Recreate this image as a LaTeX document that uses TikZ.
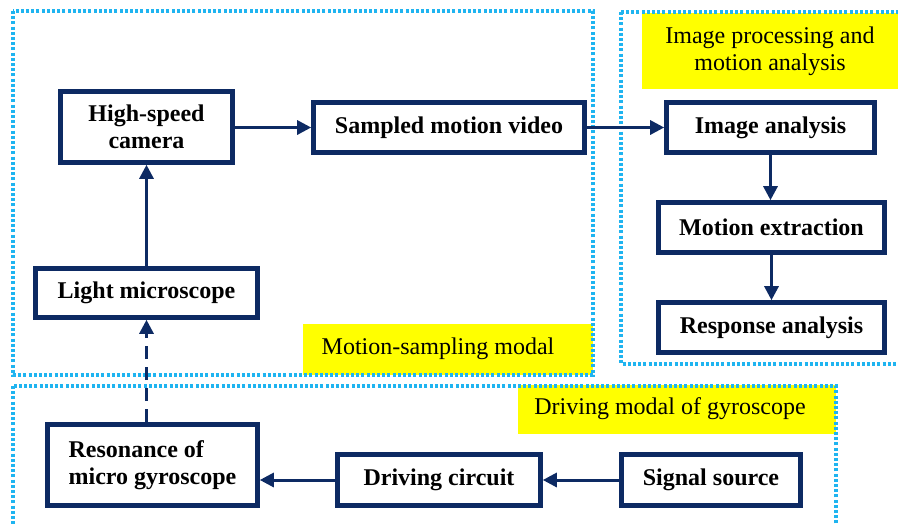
\documentclass[tikz,border=0pt]{standalone}
\usepackage{fontspec}
\setmainfont{Liberation Serif}
\usetikzlibrary{arrows.meta}
\definecolor{navy}{HTML}{0D2A63}
\definecolor{dotblue}{HTML}{1FB4F0}
\definecolor{lblyellow}{HTML}{FFFF00}
\tikzset{
 box/.style={draw=navy, line width=4.6pt, rectangle, font=\fontsize{24}{27}\selectfont\bfseries, align=center, inner sep=0pt},
 flow/.style={draw=navy, line width=3pt, -{Triangle[length=14pt,width=14pt]}},
 dflow/.style={flow, dash pattern=on 13pt off 8pt},
 region/.style={draw=dotblue, line width=3.5pt, dash pattern=on 3pt off 2.2pt},
 lbl/.style={font=\fontsize{24}{27}\selectfont, align=center, inner sep=0pt},
 hl/.style={fill=lblyellow, rectangle, inner sep=0pt}
}
\begin{document}
\begin{tikzpicture}[x=1pt,y=-1pt]
\useasboundingbox (0,0) rectangle (898,525);
\clip (0,0) rectangle (898,525);
% yellow label backgrounds
\node[hl, minimum width=258pt, minimum height=76pt] (hlA) at (771,51) {};
\node[hl, minimum width=290pt, minimum height=51pt] (hlB) at (448,349.5) {};
\node[hl, minimum width=318pt, minimum height=49pt] (hlC) at (677,409.5) {};
% dotted regions
\draw[region] (13,11) rectangle (593,375);
\draw[region] (621,12) rectangle (910,364);
\draw[region] (13,386) rectangle (836,545);
% label texts
\node[lbl] (tA) at (770,51) {Image processing and\\motion analysis};
\node[lbl] (tB) at (438,349) {Motion-sampling modal};
\node[lbl] (tC) at (670,409) {Driving modal of gyroscope};
% boxes
\node[box, minimum width=172pt, minimum height=71pt] (cam) at (146.5,127) {High-speed\\camera};
\node[box, minimum width=271pt, minimum height=50pt] (smv) at (449,127.5) {Sampled motion video};
\node[box, minimum width=208pt, minimum height=50pt] (ia) at (770.5,127.5) {Image analysis};
\node[box, minimum width=226pt, minimum height=50pt] (me) at (771.5,227.5) {Motion extraction};
\node[box, minimum width=226pt, minimum height=50pt] (ra) at (771.5,327.5) {Response analysis};
\node[box, minimum width=222pt, minimum height=49pt] (lm) at (146.5,293) {Light microscope};
\node[box, minimum width=210pt, minimum height=81pt, align=left] (res) at (152.5,465) {Resonance of\\micro gyroscope};
\node[box, minimum width=203pt, minimum height=51pt] (dc) at (439,480) {Driving circuit};
\node[box, minimum width=179pt, minimum height=51pt] (ss) at (711,480) {Signal source};
% connectors
\draw[flow] (cam.east |- smv.west) -- (smv.west);
\draw[flow] (smv.east) -- (ia.west);
\draw[flow] (ia.south) -- (ia.south |- me.north);
\draw[flow] (me.south) -- (ra.north);
\draw[flow] (lm.north) -- (cam.south);
\draw[dflow] (res.north -| lm.south) -- (lm.south);
\draw[flow] (ss.west) -- (dc.east);
\draw[flow] (dc.west) -- (dc.west -| res.east);
\end{tikzpicture}
\end{document}
